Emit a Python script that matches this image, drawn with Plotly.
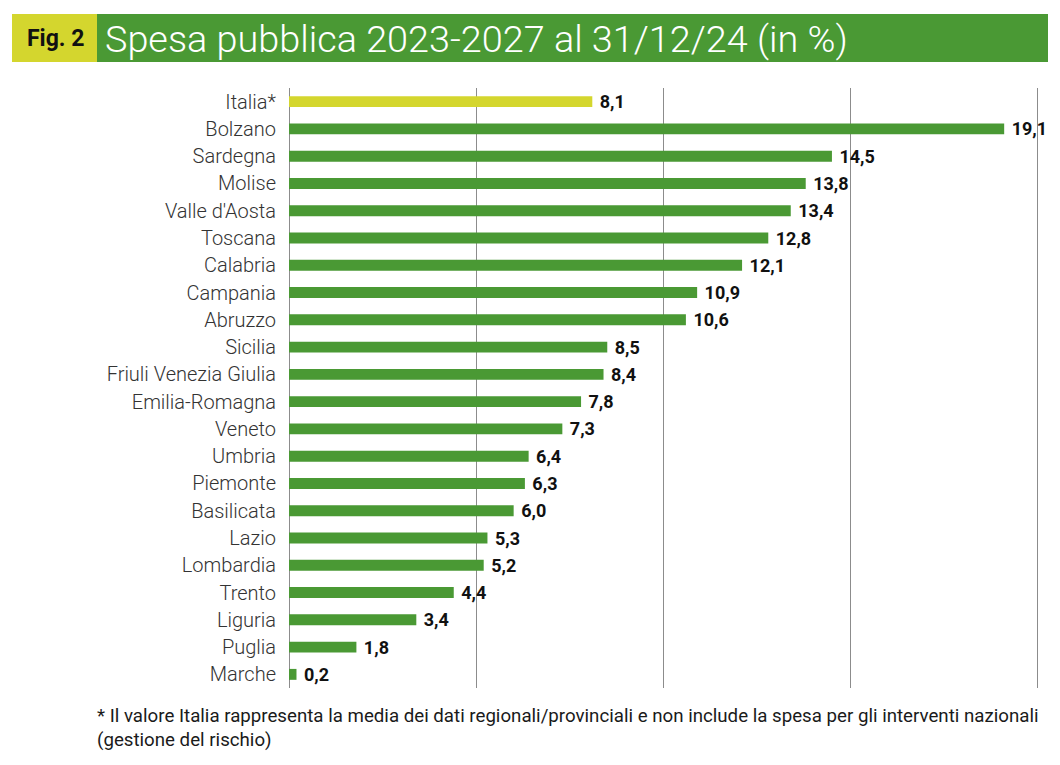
import plotly.graph_objects as go

categories = ["Italia*", "Bolzano", "Sardegna", "Molise", "Valle d'Aosta", "Toscana",
              "Calabria", "Campania", "Abruzzo", "Sicilia", "Friuli Venezia Giulia",
              "Emilia-Romagna", "Veneto", "Umbria", "Piemonte", "Basilicata", "Lazio",
              "Lombardia", "Trento", "Liguria", "Puglia", "Marche"]
values = [8.1, 19.1, 14.5, 13.8, 13.4, 12.8, 12.1, 10.9, 10.6, 8.5, 8.4, 7.8, 7.3,
          6.4, 6.3, 6.0, 5.3, 5.2, 4.4, 3.4, 1.8, 0.2]
x_ticks = [0, 5, 10, 15, 20]

GREEN = "#4a9934"
YELLOW = "#d4d62e"
colors = [YELLOW] + [GREEN] * (len(categories) - 1)

OFF = 8  # page body margin offset
W, H = 1060, 765
L, R, T, B = 289 - OFF, 1039 - OFF, 88 - OFF, 688 - OFF

def px(p):
    return (p - OFF - L) / (R - L)

def py(p):
    return (B - (p - OFF)) / (B - T)

fig = go.Figure(go.Bar(
    y=categories, x=values, orientation="h",
    marker=dict(color=colors, line=dict(width=0)),
    width=0.4,
    texttemplate="\u00a0%{x:.1f}", textposition="outside", cliponaxis=False,
    constraintext="none",
    textfont=dict(family="Roboto", size=18, color="#111111", weight=700),
    hoverinfo="skip",
))

fig.update_layout(
    width=W, height=H,
    margin=dict(l=L, r=W - R, t=T, b=H - B, pad=0),
    paper_bgcolor="white", plot_bgcolor="white",
    separators=",.",
    showlegend=False,
    xaxis=dict(range=[0, 20.03], tickvals=x_ticks, showticklabels=False,
               showgrid=True, gridcolor="#8c8c8c", gridwidth=1,
               zeroline=True, zerolinecolor="#8c8c8c", zerolinewidth=1,
               showline=False, fixedrange=True),
    yaxis=dict(categoryorder="array", categoryarray=categories,
               range=[21.5, -0.5], showgrid=False, zeroline=False, showline=False,
               ticks="", ticklabelstandoff=12,
               tickfont=dict(family="Roboto", size=20, color="#333333", weight=300)),
    font=dict(family="Roboto"),
    shapes=[
        dict(type="rect", xref="paper", yref="paper", x0=px(12), x1=px(1048),
             y0=py(62), y1=py(14), fillcolor=GREEN, line=dict(width=0), layer="below"),
        dict(type="rect", xref="paper", yref="paper", x0=px(12), x1=px(97),
             y0=py(62), y1=py(14), fillcolor=YELLOW, line=dict(width=0), layer="below"),
    ],
    annotations=[
        dict(xref="paper", yref="paper", x=px(55), y=py(39), text="<b>Fig. 2</b>",
             showarrow=False, xanchor="center", yanchor="middle",
             font=dict(family="Roboto", size=23, color="#111111")),
        dict(xref="paper", yref="paper", x=px(103), y=py(39),
             text="Spesa pubblica 2023-2027 al 31/12/24 (in %)",
             showarrow=False, xanchor="left", yanchor="middle",
             font=dict(family="Roboto", size=37.8, color="white", weight=300)),
        dict(xref="paper", yref="paper", x=px(95), y=py(703),
             text="* Il valore Italia rappresenta la media dei dati regionali/provinciali e non include la spesa per gli interventi nazionali<br>(gestione del rischio)",
             showarrow=False, xanchor="left", yanchor="top", align="left",
             font=dict(family="Roboto", size=18.7, color="#1a1a1a")),
    ],
)

fig.write_html("out.html")
